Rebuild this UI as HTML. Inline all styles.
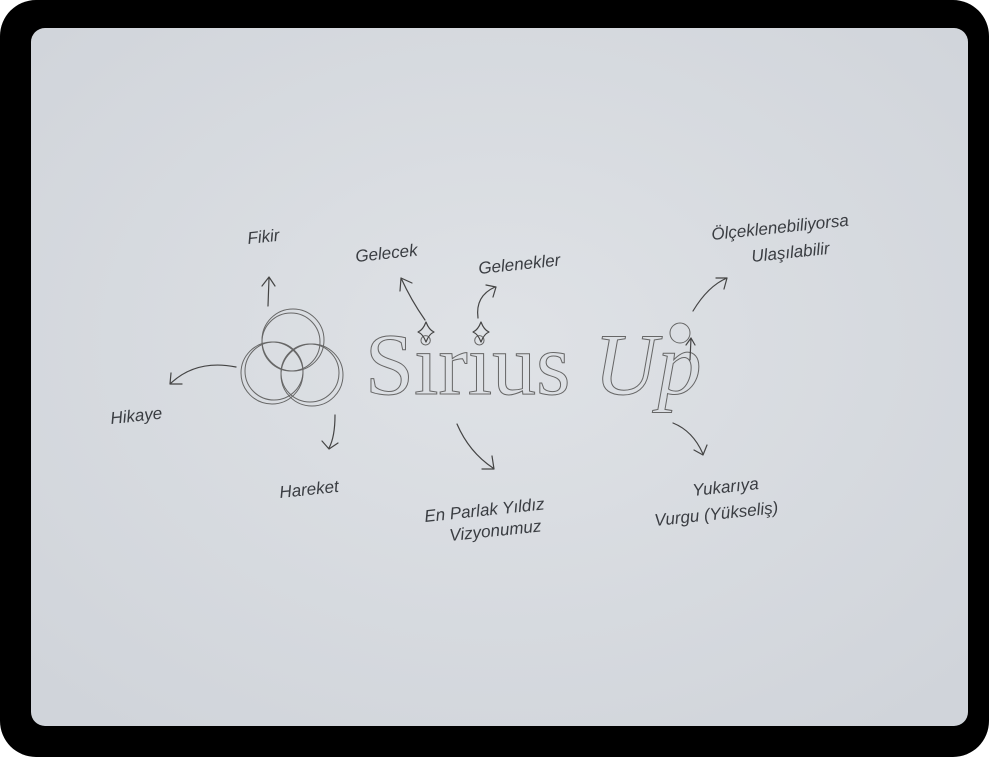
<!DOCTYPE html>
<html><head><style>
html,body{margin:0;padding:0;background:#fff;}
svg{display:block}
.t{font-family:"Liberation Sans",sans-serif;font-style:italic;font-size:17px;fill:#3a3d42;}
.a{fill:none;stroke:#444;stroke-width:1.2;stroke-linecap:round;stroke-linejoin:round}
</style></head><body>
<svg width="989" height="757" viewBox="0 0 989 757" xmlns="http://www.w3.org/2000/svg">
<defs>
<radialGradient id="g" cx="0.5" cy="0.45" r="0.7">
<stop offset="0" stop-color="#dfe2e6"/><stop offset="1" stop-color="#d0d4da"/>
</radialGradient>
</defs>
<rect x="0" y="0" width="989" height="757" rx="36" fill="#000"/>
<rect x="31" y="28" width="937" height="698" rx="14" fill="url(#g)"/>
<!-- circles -->
<g fill="none" stroke="#666" stroke-width="1">
<circle cx="293" cy="340" r="31"/><circle cx="291" cy="342" r="29"/>
<circle cx="272" cy="373" r="31"/><circle cx="274" cy="371" r="29"/>
<circle cx="312" cy="375" r="31"/><circle cx="310" cy="373" r="29"/>
</g>
<text x="365" y="394" font-family="Liberation Serif,serif" font-size="88" fill="none" stroke="#666" stroke-width="1">Sirius</text>
<text x="594" y="394" font-family="Liberation Serif,serif" font-style="italic" font-size="88" fill="none" stroke="#666" stroke-width="1">Up</text>
<circle cx="680" cy="333" r="10" fill="none" stroke="#666"/>
<path class="a" d="M426 322 q3 8 8 10 q-5 2 -8 10 q-3 -8 -8 -10 q5 -2 8 -10z M481 322 q3 8 8 10 q-5 2 -8 10 q-3 -8 -8 -10 q5 -2 8 -10z"/>
<!-- arrows -->
<path class="a" d="M268 306 l1 -28 M262 286 l7 -9 l6 9"/>
<path class="a" d="M236 367 q-40 -8 -66 17 M171 373 l-1 11 l12 0"/>
<path class="a" d="M335 415 q0 22 -6 33 M322 441 l7 8 l9 -6"/>
<path class="a" d="M425 320 q-14 -20 -24 -42 M400 291 l1 -13 l11 5"/>
<path class="a" d="M478 318 q-3 -22 17 -31 M486 285 l10 2 l-3 10"/>
<path class="a" d="M693 311 q15 -25 34 -33 M716 278 l11 0 l-3 11"/>
<path class="a" d="M457 424 q12 28 36 44 M492 456 l2 13 l-12 0"/>
<path class="a" d="M673 423 q20 8 30 31 M694 450 l9 5 l4 -10"/>
<path class="a" d="M690 360 l1 -22 M686 345 l5 -7 l4 7"/>
<!-- labels -->
<text class="t" x="248" y="244" transform="rotate(-6 248 244)">Fikir</text>
<text class="t" x="356" y="262" transform="rotate(-6 356 262)">Gelecek</text>
<text class="t" x="479" y="274" transform="rotate(-6 479 274)">Gelenekler</text>
<text class="t" x="712" y="240" transform="rotate(-6 712 240)">Ölçeklenebiliyorsa</text>
<text class="t" x="752" y="262" transform="rotate(-6 752 262)">Ulaşılabilir</text>
<text class="t" x="111" y="424" transform="rotate(-6 111 424)">Hikaye</text>
<text class="t" x="280" y="498" transform="rotate(-6 280 498)">Hareket</text>
<text class="t" x="425" y="522" transform="rotate(-6 425 522)">En Parlak Yıldız</text>
<text class="t" x="450" y="541" transform="rotate(-6 450 541)">Vizyonumuz</text>
<text class="t" x="693" y="496" transform="rotate(-6 693 496)">Yukarıya</text>
<text class="t" x="655" y="526" transform="rotate(-6 655 526)">Vurgu (Yükseliş)</text>
</svg>
</body></html>
